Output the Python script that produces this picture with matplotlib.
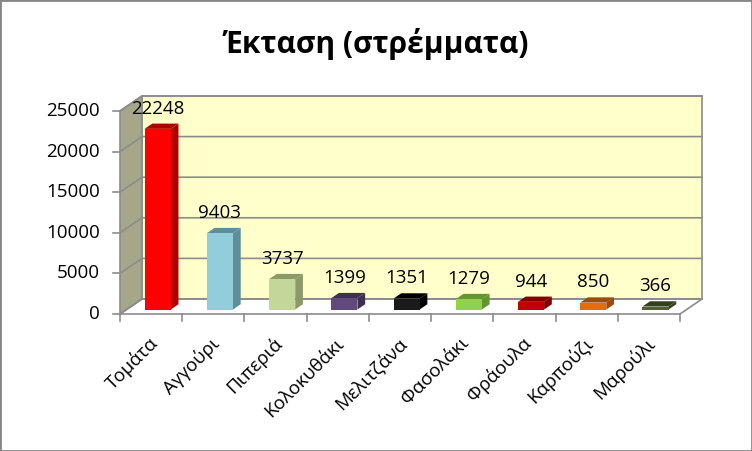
import numpy as np
import matplotlib
matplotlib.use('Agg')
import matplotlib.pyplot as plt
from matplotlib.patches import Polygon, Rectangle
from matplotlib.transforms import IdentityTransform

plt.rcParams['font.family'] = ['Open Sans', 'DejaVu Sans']

categories = ['Τομάτα', 'Αγγούρι', 'Πιπεριά', 'Κολοκυθάκι', 'Μελιτζάνα',
              'Φασολάκι', 'Φράουλα', 'Καρπούζι', 'Μαρούλι']
values = [22248, 9403, 3737, 1399, 1351, 1279, 944, 850, 366]
front_colors = ['#FF0000', '#92CDDC', '#C4D79B', '#604A7B', '#1A1A1A',
                '#92D050', '#C00000', '#E46C0A', '#4F6228']
side_colors = ['#B00000', '#5E8E9C', '#8C9A6A', '#3F3052', '#000000',
               '#64952E', '#800000', '#A04A06', '#33401A']
title = 'Έκταση (στρέμματα)'
yticks = [0, 5000, 10000, 15000, 20000, 25000]

DX, DY = 22, 15          # depth of the 3D box in pixels
F1, F2 = 0.30, 0.65      # bar front / back depth fractions
BW = 0.42                # bar width in category units

fig = plt.figure(figsize=(7.52, 4.51), dpi=100)
fig.patches.append(Rectangle((0, 0), 1, 1, transform=fig.transFigure,
                             fill=False, edgecolor='#868686', linewidth=2))
ax = fig.add_axes([120 / 752, (451 - 314) / 451, 560 / 752, 203 / 451])
n = len(categories)
ax.set_xlim(0, n)
ax.set_ylim(0, 25000)
ax.axis('off')


def P(x, y, d=0.0):
    px, py = ax.transData.transform((x, y))
    return (px + d * DX, py + d * DY)


def poly(pts, fc, ec='none', lw=0, z=1):
    p = Polygon(pts, closed=True, facecolor=fc, edgecolor=ec, linewidth=lw,
                transform=IdentityTransform(), zorder=z, clip_on=False)
    fig.patches.append(p)


grid = '#8C8C8C'
# back wall
poly([P(0, 0, 1), P(n, 0, 1), P(n, 25000, 1), P(0, 25000, 1)], '#FFFFCC', grid, 1.2)
# left wall
poly([P(0, 0, 0), P(0, 0, 1), P(0, 25000, 1), P(0, 25000, 0)], '#A6A68A', grid, 1.2)
# floor
poly([P(0, 0, 0), P(n, 0, 0), P(n, 0, 1), P(0, 0, 1)], 'white', grid, 1.2)

for t in yticks:
    a, b, c = P(0, t, 0), P(0, t, 1), P(n, t, 1)
    fig.lines.append(plt.Line2D([a[0], b[0], c[0]], [a[1], b[1], c[1]], color=grid,
                                lw=1.2, transform=IdentityTransform()))
    fig.lines.append(plt.Line2D([a[0] - 7, a[0]], [a[1], a[1]], color=grid,
                                lw=1.2, transform=IdentityTransform()))
    fig.text(a[0] - 20, a[1], str(t), ha='right', va='center', fontsize=13.5,
             transform=IdentityTransform())

for k in range(n + 1):
    a = P(k, 0, 0)
    fig.lines.append(plt.Line2D([a[0], a[0]], [a[1], a[1] - 7], color=grid,
                                lw=1.2, transform=IdentityTransform()))

for i, (v, fc, sc) in enumerate(zip(values, front_colors, side_colors)):
    x0 = i + 0.5 - BW / 2
    x1 = i + 0.5 + BW / 2
    # side face
    poly([P(x1, 0, F1), P(x1, 0, F2), P(x1, v, F2), P(x1, v, F1)], sc, z=3)
    # top face
    poly([P(x0, v, F1), P(x1, v, F1), P(x1, v, F2), P(x0, v, F2)], sc, z=3)
    # front face
    poly([P(x0, 0, F1), P(x1, 0, F1), P(x1, v, F1), P(x0, v, F1)], fc, z=4)
    lx = P(i + 0.5, v, F1)[0]
    ly = P(i + 0.5, v, F2)[1]
    fig.text(lx, ly + 6, str(v), ha='center', va='bottom', fontsize=13.5,
             transform=IdentityTransform(), zorder=5)
    tx, ty = P(i + 0.5, 0, 0)
    fig.text(tx - 3, ty - 20, categories[i], ha='right', va='top', fontsize=13.5,
             rotation=45, rotation_mode='anchor', transform=IdentityTransform())

fig.text(0.5, 1 - 44 / 451, title, ha='center', va='center', fontsize=21.5,
         fontweight='bold')

fig.savefig('out.png', dpi=100)
